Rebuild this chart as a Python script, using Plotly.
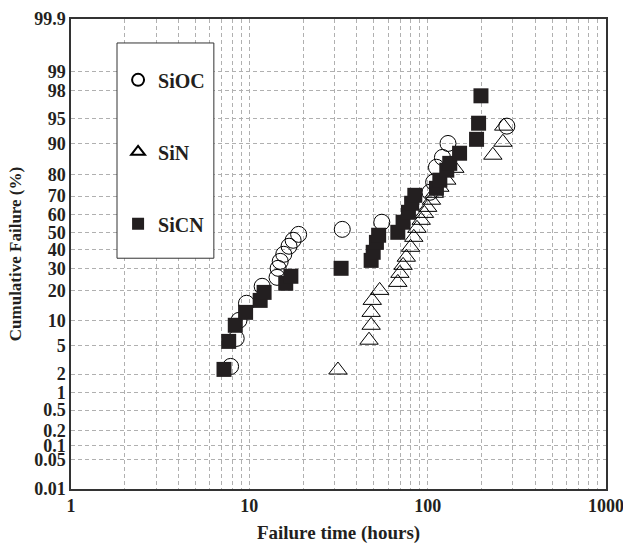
import plotly.graph_objects as go
from statistics import NormalDist

# ---- data ----
sioc_time = [7.85, 8.44, 8.75, 9.64, 11.8, 14.3, 14.5, 14.9, 15.6, 16.7, 17.6, 18.9,
             33.2, 55.3, 103, 108, 112, 121, 130, 278]
sioc_pct = [2.6, 6.2, 10.1, 15.2, 21.7, 25.7, 30.1, 33.7, 37.5, 42.0, 45.4, 48.8,
            51.7, 55.8, 71.9, 76.6, 82.7, 86.1, 90.1, 93.8]

sin_time = [31.4, 46.9, 48.2, 48.2, 48.9, 53.8, 68.0, 69.9, 72.8, 75.9, 80.2, 83.6,
            87.1, 92.0, 95.9, 100, 105, 109, 117, 128, 142, 232, 264, 267]
sin_pct = [2.3, 5.9, 8.9, 12.3, 16.2, 20.0, 23.4, 27.6, 31.6, 35.9, 41.4, 47.1,
           52.3, 56.9, 60.8, 64.1, 67.9, 71.4, 74.3, 77.5, 82.3, 86.8, 90.4, 93.8]

sicn_time = [7.21, 7.66, 8.34, 9.53, 11.5, 12.1, 16.0, 17.1, 32.7, 48.2, 49.5, 51.6,
             53.1, 68.0, 72.8, 78.0, 81.3, 84.7, 112, 117, 128, 133, 151, 188, 193, 199]
sicn_pct = [2.35, 5.7, 8.9, 12.3, 16.2, 19.2, 23.0, 26.2, 30.1, 34.2, 38.6, 44.2,
            48.3, 50.0, 55.8, 61.4, 66.3, 70.4, 73.8, 77.5, 81.6, 84.1, 87.4, 91.1, 94.3, 97.6]

y_tick_pct = [0.01, 0.05, 0.1, 0.2, 0.5, 1, 2, 5, 10, 20, 30, 40, 50, 60, 70, 80,
              90, 95, 98, 99, 99.9]
y_tick_text = ["0.01", "0.05", "0.1", "0.2", "0.5", "1", "2", "5", "10", "20", "30",
               "40", "50", "60", "70", "80", "90", "95", "98", "99", "99.9"]
x_decades = [1, 10, 100, 1000]

# ---- probability (normal) scale transform ----
nd = NormalDist()


def probit(p):
    return nd.inv_cdf(p / 100.0)


x_tickvals = []
x_ticktext = []
for d in x_decades[:-1]:
    for m in range(1, 10):
        x_tickvals.append(d * m)
        x_ticktext.append(str(d) if m == 1 else "")
x_tickvals.append(x_decades[-1])
x_ticktext.append(str(x_decades[-1]))

FONT = "Liberation Serif"
INK = "#231f20"

fig = go.Figure()
fig.add_trace(go.Scatter(
    x=sioc_time, y=[probit(p) for p in sioc_pct], mode="markers", name="SiOC",
    legendgroup="a",
    marker=dict(symbol="circle-open", size=16, color="black", line=dict(width=1, color="black")),
))
fig.add_trace(go.Scatter(
    x=sin_time, y=[probit(p) for p in sin_pct], mode="markers", name="SiN",
    legendgroup="b",
    marker=dict(symbol="triangle-up-open", size=16, color="black", line=dict(width=1, color="black")),
))
fig.add_trace(go.Scatter(
    x=sicn_time, y=[probit(p) for p in sicn_pct], mode="markers", name="SiCN",
    legendgroup="c",
    marker=dict(symbol="square", size=15, color=INK, line=dict(width=0)),
))

grid_style = dict(showgrid=True, gridcolor="#b0b0b0", gridwidth=1, griddash="4px,3px")

fig.update_xaxes(
    type="log", range=[0, 3], automargin=False, ticklabeloverflow="allow",
    tickvals=x_tickvals, ticktext=x_ticktext,
    tickfont=dict(family=FONT, size=18, color=INK, weight="bold"),
    title=dict(text="Failure time (hours)", standoff=11,
               font=dict(family=FONT, size=19, color=INK, weight="bold")),
    showline=True, linecolor="#333333", linewidth=1.5, mirror=True,
    ticks="", zeroline=False, **grid_style,
)
fig.update_yaxes(
    range=[probit(0.01), probit(99.9)], automargin=False, ticklabeloverflow="allow",
    tickvals=[probit(p) for p in y_tick_pct], ticktext=y_tick_text,
    tickfont=dict(family=FONT, size=18, color=INK, weight="bold"),
    title=dict(text="Cumulative Failure (%)", standoff=8,
               font=dict(family=FONT, size=17, color=INK, weight="bold")),
    showline=True, linecolor="#333333", linewidth=1.5, mirror=True,
    ticks="", zeroline=False, **grid_style,
)

# legend frame
fig.add_shape(type="rect", xref="paper", yref="paper",
              x0=0.086, x1=0.267, y0=0.491, y1=0.949,
              line=dict(color="#333333", width=1), fillcolor="white", layer="above")

fig.update_layout(
    width=623, height=544,
    margin=dict(l=71, r=17, t=19, b=55),
    paper_bgcolor="white", plot_bgcolor="white",
    showlegend=True,
    legend=dict(
        x=0.088, y=0.912, xanchor="left", yanchor="top",
        bgcolor="rgba(0,0,0,0)", borderwidth=0,
        traceorder="grouped", tracegroupgap=43,
        font=dict(family=FONT, size=20, color=INK, weight="bold"),
        itemsizing="constant",
    ),
)

fig.write_html("out.html")
